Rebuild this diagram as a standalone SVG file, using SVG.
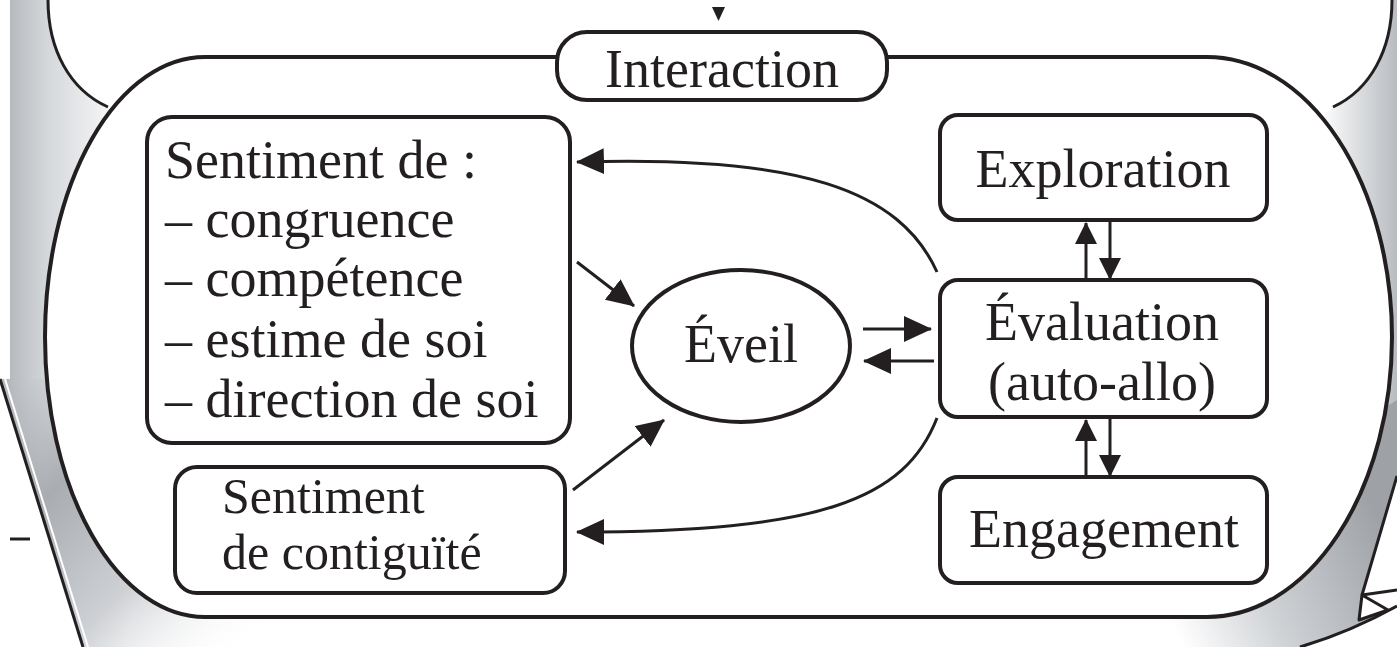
<svg xmlns="http://www.w3.org/2000/svg" width="1397" height="647" viewBox="0 0 1397 647">
<style>
.ln{fill:none;stroke:#231f20;stroke-width:4}
.box{fill:#fff;stroke:#231f20;stroke-width:4}
.ar{fill:none;stroke:#231f20;stroke-width:3}
.t{font-family:"Liberation Serif","Times New Roman",serif;font-size:54px;fill:#231f20}
.m{text-anchor:middle}
</style>
<defs>
<marker id="ah" markerUnits="userSpaceOnUse" markerWidth="28" markerHeight="26" refX="27" refY="13" orient="auto">
<path d="M0,0 L28,13 L0,26 Z" fill="#231f20"/>
</marker>
<marker id="as" markerUnits="userSpaceOnUse" markerWidth="22" markerHeight="22" refX="21" refY="11" orient="auto">
<path d="M0,0 L22,11 L0,22 Z" fill="#231f20"/>
</marker>
<linearGradient id="gL" gradientUnits="userSpaceOnUse" x1="10" y1="0" x2="130" y2="0">
<stop offset="0" stop-color="#b6babe"/><stop offset="0.3" stop-color="#d4d7da"/><stop offset="1" stop-color="#ffffff"/>
</linearGradient>
<linearGradient id="gBL" gradientUnits="userSpaceOnUse" x1="20" y1="380" x2="250" y2="645">
<stop offset="0" stop-color="#a4a8ad" stop-opacity="0"/>
<stop offset="0.3" stop-color="#a4a8ad" stop-opacity="0.9"/>
<stop offset="0.65" stop-color="#c9ccd0" stop-opacity="0.9"/>
<stop offset="1" stop-color="#ffffff" stop-opacity="0"/>
</linearGradient>
<linearGradient id="gTR" gradientUnits="userSpaceOnUse" x1="1320" y1="0" x2="1397" y2="0">
<stop offset="0" stop-color="#ffffff"/><stop offset="1" stop-color="#b8bcc0"/>
</linearGradient>
<linearGradient id="gBR" gradientUnits="userSpaceOnUse" x1="1390" y1="540" x2="1180" y2="640">
<stop offset="0" stop-color="#9ea2a7"/><stop offset="0.6" stop-color="#d0d3d6"/><stop offset="1" stop-color="#ffffff"/>
</linearGradient>
</defs>
<rect width="1397" height="647" fill="#fff"/>
<g id="background">
<path d="M10,0 H48 C48,50 70,90 108,107 L140,200 L140,647 L83,647 L0,379 L10,379 Z" fill="url(#gL)"/>
<path d="M0,379 L83,647 L280,647 L280,600 L60,379 Z" fill="url(#gBL)"/>
<path d="M1392,0 C1392,50 1370,90 1333,107 L1300,140 L1397,476 V0 Z" fill="url(#gTR)"/>
<path d="M1397,400 L1397,476 L1362,595 L1360,620 L1397,606 Q1350,632 1300,647 L1150,647 L1150,550 Z" fill="url(#gBR)"/>
<path d="M48,0 C48,50 70,90 108,107" class="ar" stroke-width="3.5"/>
<path d="M1392,0 C1392,50 1370,90 1333,107" class="ar" stroke-width="3.5"/>
<line x1="0" y1="379" x2="83" y2="647" stroke="#231f20" stroke-width="3"/>
<line x1="5" y1="379" x2="88" y2="647" stroke="#fff" stroke-width="2"/>
<line x1="1397" y1="476" x2="1362" y2="595" stroke="#231f20" stroke-width="3"/>
<path d="M1397,606 Q1350,632 1300,647" class="ar"/>
<line x1="1362" y1="595" x2="1397" y2="590" stroke="#231f20" stroke-width="3"/>
<path d="M1362,595 L1388,610 L1359,620 Z" fill="#fff" stroke="#231f20" stroke-width="3" stroke-linejoin="round"/>
<line x1="10" y1="539" x2="30" y2="539" stroke="#231f20" stroke-width="3"/>
<path d="M712,7 H725 L718.5,21 Z" fill="#231f20"/>
</g>
<g id="frame">
<path d="M205,57 H1207 A185,280 0 0 1 1207,617 H205 A160,280 0 0 1 205,57 Z" class="box"/>
</g>
<g id="interaction">
<rect x="557" y="32" width="330" height="68" rx="30" class="box"/>
<text x="722" y="87" class="t m">Interaction</text>
</g>
<g id="sentiment-de">
<rect x="147" y="117" width="423" height="326" rx="25" class="box"/>
<text class="t"><tspan x="165" y="178">Sentiment de :</tspan><tspan x="165" y="237">– congruence</tspan><tspan x="165" y="296">– compétence</tspan><tspan x="165" y="357">– estime de soi</tspan><tspan x="165" y="417">– direction de soi</tspan></text>
</g>
<g id="contiguite">
<rect x="175" y="467" width="390" height="126" rx="22" class="box"/>
<text class="t" style="font-size:50px"><tspan x="222" y="513">Sentiment</tspan><tspan x="222" y="569">de contiguïté</tspan></text>
</g>
<g id="eveil">
<ellipse cx="741" cy="346" rx="109" ry="76" class="box"/>
<text x="741" y="362" class="t m">Éveil</text>
</g>
<g id="exploration">
<rect x="940" y="115" width="327" height="105" rx="18" class="box"/>
<text x="1103" y="187" class="t m">Exploration</text>
</g>
<g id="evaluation">
<rect x="940" y="280" width="327" height="137" rx="18" class="box"/>
<text class="t m"><tspan x="1102" y="340">Évaluation</tspan><tspan x="1102" y="400">(auto-allo)</tspan></text>
</g>
<g id="engagement">
<rect x="940" y="477" width="327" height="106" rx="18" class="box"/>
<text x="1104" y="547" class="t m">Engagement</text>
</g>
<g id="connectors">
<path d="M1086,280 V223" class="ar" marker-end="url(#as)"/>
<path d="M1110,222 V279" class="ar" marker-end="url(#as)"/>
<path d="M1086,477 V420" class="ar" marker-end="url(#as)"/>
<path d="M1110,419 V476" class="ar" marker-end="url(#as)"/>
<path d="M863,329 H931" class="ar" marker-end="url(#ah)"/>
<path d="M934,361 H864" class="ar" marker-end="url(#ah)"/>
<path d="M577,262 L634,306" class="ar" marker-end="url(#ah)"/>
<path d="M573,490 L664,420" class="ar" marker-end="url(#ah)"/>
<path d="M937,272 C900,190 800,155 577,162" class="ar" marker-end="url(#ah)"/>
<path d="M937,418 C905,500 820,532 577,532" class="ar" marker-end="url(#ah)"/>
</g>
</svg>
